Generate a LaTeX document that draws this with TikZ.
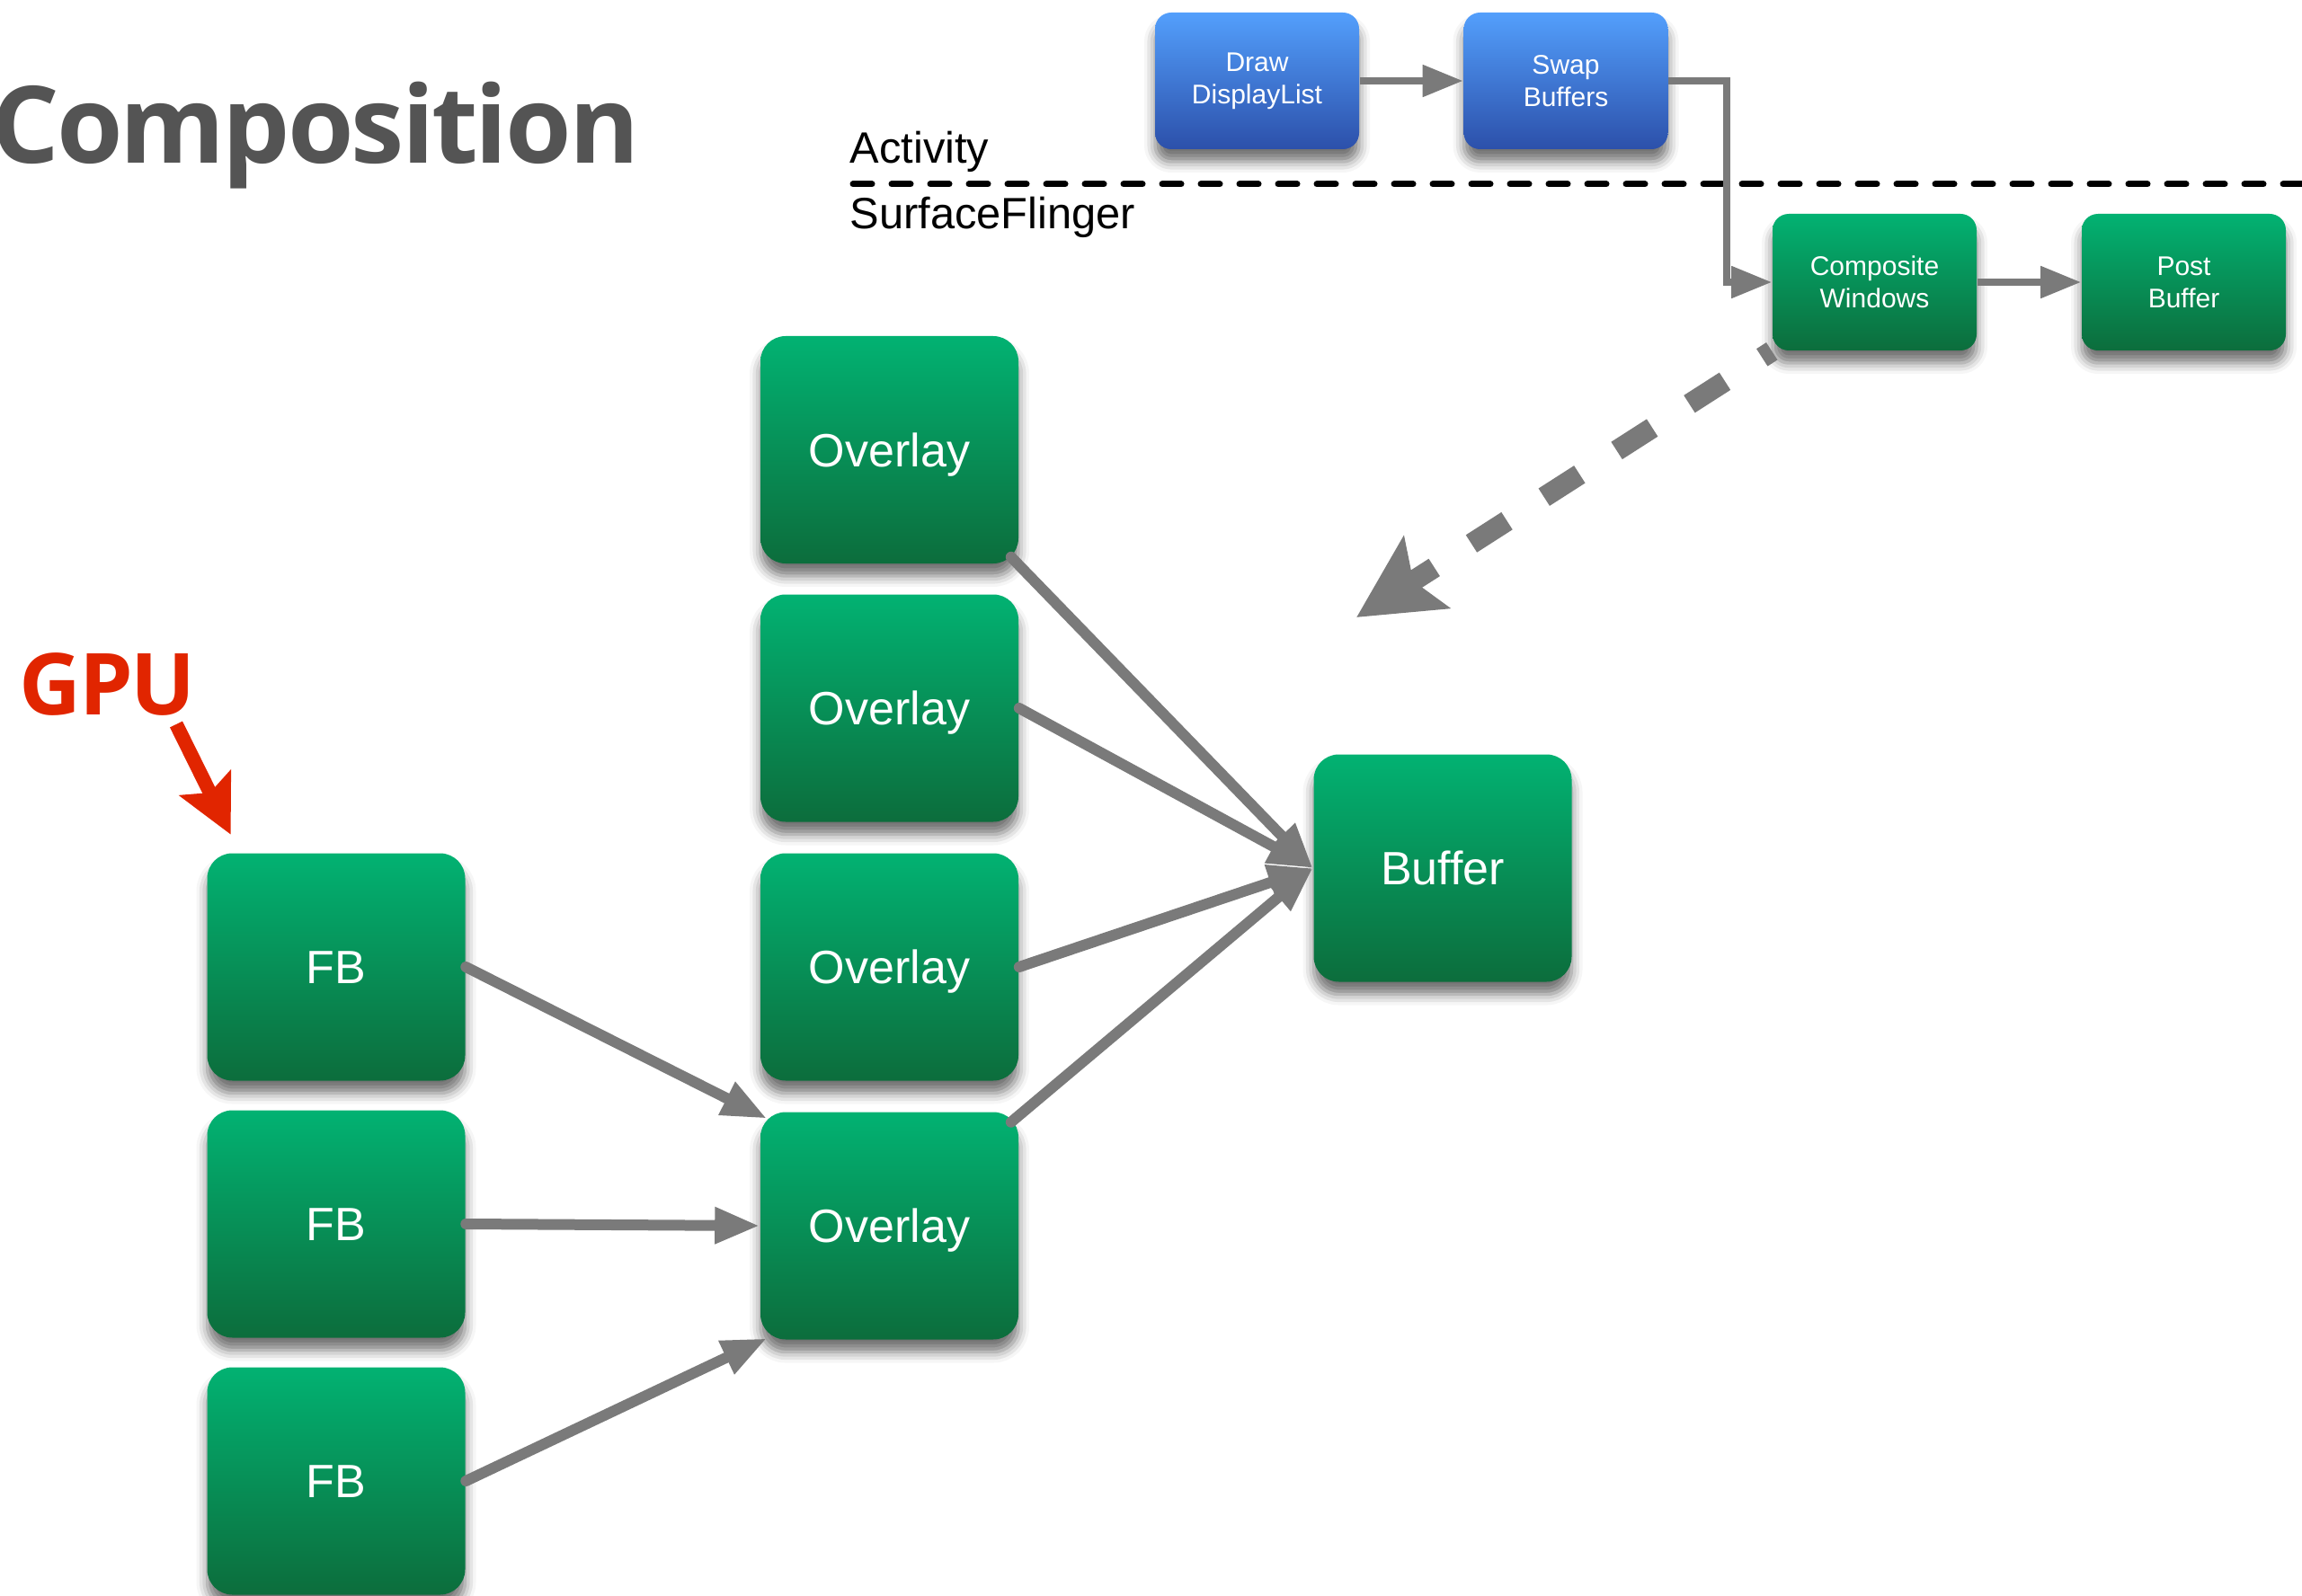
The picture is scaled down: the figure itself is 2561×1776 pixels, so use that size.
\documentclass[tikz,border=0pt]{standalone}
\usepackage{fontspec}
\setmainfont{Liberation Sans}
\newfontfamily\headfont{Open Sans}[LetterSpace=-2.5]
\usetikzlibrary{arrows.meta,shadows.blur}

\definecolor{gtop}{HTML}{02B272}
\definecolor{gbot}{HTML}{0C6D3C}
\definecolor{btop}{HTML}{539FFC}
\definecolor{bbot}{HTML}{2C50AA}
\definecolor{arrowgray}{HTML}{7A7A7A}
\definecolor{titlegray}{HTML}{545454}
\definecolor{gpured}{HTML}{E12500}

\begin{document}
\begin{tikzpicture}[x=0.25pt,y=-0.25pt,
  shadowed/.style={blur shadow={shadow xshift=0pt,shadow yshift=-3.5pt,
      shadow blur radius=3pt,shadow opacity=55}},
  greenfill/.style={top color=gtop,bottom color=gbot},
  bluefill/.style={top color=btop,bottom color=bbot},
  bigbox/.style={shadowed,greenfill,rounded corners=7pt,
      minimum width=71.75pt,minimum height=63.25pt,inner sep=0pt,
      text=white,font=\fontsize{13pt}{15.6pt}\selectfont,
      text height=9.3pt,text depth=0pt},
  smallbox/.style={shadowed,rounded corners=4.5pt,
      minimum width=56.75pt,minimum height=38pt,inner sep=0pt,
      text=white,align=center,font=\fontsize{7.5pt}{9pt}\selectfont},
  link/.style={draw=arrowgray,line width=3pt,line cap=round,
      -{Triangle[length=12.5pt,width=9.5pt]}},
  steplink/.style={draw=arrowgray,line width=2pt,
      -{Triangle[length=11.25pt,width=8.5pt]}},
  label/.style={inner sep=0pt,anchor=base west},
]
\path[use as bounding box] (0,0) rectangle (2561,1776);

% headings
\node[inner sep=0pt,anchor=base east,text=titlegray,
      font=\headfont\bfseries\fontsize{29.75pt}{34pt}\selectfont]
      (title) at (712,182) {Composition};
\node[label,text=gpured,font=\headfont\bfseries\fontsize{23.8pt}{28pt}\selectfont]
      (gpu) at (21,795) {GPU};
\node[label,font=\fontsize{12.2pt}{14pt}\selectfont] (act) at (945,182) {Activity};
\node[label,font=\fontsize{12.2pt}{14pt}\selectfont] (sf) at (945,255) {SurfaceFlinger};

% process boundary
\coordinate (sepL) at (949,205);
\coordinate (sepR) at (2561,205);
\draw[line width=1.75pt,line cap=round,dash pattern=on 5.25pt off 5.5pt] (sepL) -- (sepR);

% pipeline steps
\node[smallbox,bluefill]  (ddl) at (1398.5,90) {Draw\\DisplayList};
\node[smallbox,bluefill]  (sb)  at (1742,90)   {Swap\\Buffers};
\node[smallbox,greenfill] (cw)  at (2085.5,314) {Composite\\Windows};
\node[smallbox,greenfill] (pb)  at (2429.5,314) {Post\\Buffer};

% layers
\node[bigbox] (fb1) at (374,1076) {FB};
\node[bigbox] (fb2) at (374,1362) {FB};
\node[bigbox] (fb3) at (374,1648) {FB};
\node[bigbox] (ov1) at (989.5,500.5) {Overlay};
\node[bigbox] (ov2) at (989.5,788) {Overlay};
\node[bigbox] (ov3) at (989.5,1076) {Overlay};
\node[bigbox] (ov4) at (989.5,1364) {Overlay};
\node[bigbox] (buf) at (1605,966) {Buffer};

% pipeline connectors
\draw[steplink] (ddl.east) -- (sb.west);
\draw[steplink] (sb.east) -- ++(65,0) |- (cw.west);
\draw[steplink] (cw.east) -- (pb.west);

% layer connectors
\draw[link] ([shift={(-9,-8)}]ov1.south east) -- (buf.west);
\draw[link] (ov2.east) -- (buf.west);
\draw[link] (ov3.east) -- (buf.west);
\draw[link] ([shift={(-9,12)}]ov4.north east) -- (buf.west);
\draw[link] (fb1.east) -- ([shift={(8,8)}]ov4.north west);
\draw[link] (fb2.east) -- (ov4.west);
\draw[link] (fb3.east) -- ([shift={(8,-2)}]ov4.south west);

% zoom-in pointer
\coordinate (dropTip) at (1509,687);
\draw[draw=arrowgray,line width=5.75pt,dash pattern=on 11.75pt off 12.25pt,
      dash phase=8.5pt,-{Stealth[length=23pt,width=23.25pt,inset=4.25pt]}]
      (cw.south west) -- (dropTip);

% GPU pointer
\coordinate (gpuTail) at (196,806);
\draw[draw=gpured,line width=3.9pt,-{Stealth[length=15.9pt,width=15.6pt,inset=2.9pt]}]
      (gpuTail) -- ([shift={(27,-20)}]fb1.north west);
\end{tikzpicture}
\end{document}
